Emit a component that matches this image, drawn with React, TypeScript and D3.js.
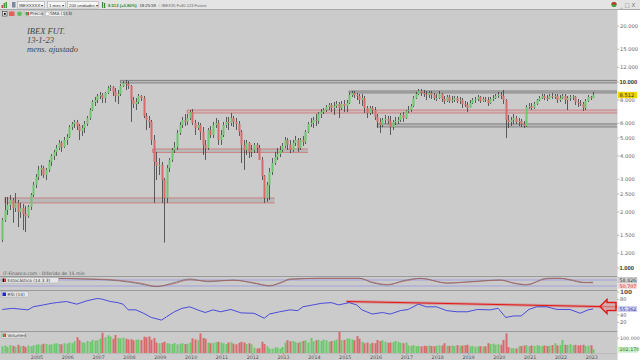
import React from 'react';
import * as d3 from 'd3';

// IBEX fut, monthly, adjusted. One candle per month from Nov 2003 to Jan 2023.
// open = previous close (continuous futures), first open given apart.
const firstOpen = 1414;

const closes = [
  1810, 2050, 2180, 2320, 2100, 2240, 2000, 2100, 1950, 1900, 2130, 2470, 2800, 3090,
  3370, 3450, 3160, 3370, 3720, 4000, 4210, 4420, 4700, 4470, 4880, 5060,
  5730, 5950, 6100, 5800, 5450, 5660, 5950, 6400, 7070, 7810, 8000, 8410,
  8510, 8200, 8730, 9280, 9400, 8840, 8410, 8620, 9520, 9880, 9760, 9520,
  8000, 7620, 7810, 8410, 8200, 6570, 6250, 6100, 4880, 3720, 3540, 3580,
  2970, 2380, 3450, 3810, 4310, 4470, 5320, 5870, 6250, 6100, 6400, 6900,
  6020, 5660, 5870, 5390, 4590, 4420, 5520, 5190, 5870, 6020, 4880, 5190,
  5870, 6100, 6020, 6400, 6100, 5950, 5390, 4590, 4310, 4700, 4210, 4310,
  4590, 4420, 3810, 3130, 2380, 2800, 3280, 3670, 3950, 4100, 4310, 4530,
  4880, 4590, 4310, 4700, 4880, 4420, 4880, 4760, 5390, 5950, 6020, 6250,
  6170, 6730, 6900, 7070, 7340, 7520, 7250, 7430, 7620, 7250, 7620, 7430,
  7710, 8510, 8730, 8510, 8410, 8000, 8200, 7250, 6810, 7250, 7070, 6490,
  6100, 5870, 6250, 6330, 6170, 5730, 6100, 6170, 6250, 6650, 6400, 6990,
  7070, 7430, 8200, 8620, 8950, 8730, 8620, 8510, 8730, 8510, 8200, 8200,
  8620, 8100, 7900, 8310, 7900, 8000, 8200, 7900, 8000, 7620, 7520, 7250,
  7710, 8000, 8050, 8310, 7900, 8100, 8000, 7710, 8100, 8200, 8410, 8510,
  8410, 8000, 6250, 6100, 6250, 6400, 6100, 6170, 5950, 5800, 7340, 7430,
  7250, 7620, 8000, 8200, 8410, 8200, 8150, 8410, 8310, 8410, 8000, 8200,
  8410, 8000, 8200, 8310, 8350, 7810, 7710, 7620, 7250, 7900, 8310, 8200,
  8512,
];

const highs = [
  1860, 2410, 2410, 2470, 2380, 2530, 2320, 2240, 2210, 2160, 2180, 2530, 2900, 3200,
  3540, 3580, 3540, 3450, 3810, 4100, 4310, 4590, 4880, 4820, 5060, 5250,
  5870, 6100, 6250, 6250, 5950, 5870, 6170, 6570, 7250, 8000, 8310, 8620,
  8840, 8730, 8840, 9520, 9640, 9520, 9280, 9060, 9760, 10120, 10250, 10120,
  9640, 8310, 8200, 8620, 8510, 8410, 6810, 6570, 6250, 5190, 4210, 3900,
  3720, 3050, 3580, 3900, 4420, 4760, 5520, 6100, 6490, 6730, 6730, 7070,
  7160, 6250, 6100, 6020, 5730, 4880, 5660, 5800, 6100, 6400, 6250, 5520,
  6100, 6490, 6490, 6810, 6570, 6400, 6170, 5520, 4880, 4880, 4760, 4590,
  4700, 4700, 4590, 3950, 3160, 2900, 3450, 3900, 4210, 4420, 4530, 4700,
  5060, 5000, 4880, 4880, 5130, 5000, 5000, 5130, 5520, 6100, 6400, 6490,
  6730, 6900, 7160, 7250, 7520, 7710, 7710, 7810, 7900, 7810, 7900, 8000,
  8000, 8730, 8950, 8950, 8730, 8620, 8620, 8410, 7430, 7430, 7430, 7340,
  6730, 6400, 6400, 6650, 6570, 6570, 6250, 6490, 6490, 6810, 6900, 7070,
  7430, 7620, 8410, 8840, 9170, 9170, 9060, 8950, 8950, 8950, 8730, 8620,
  8950, 8730, 8410, 8510, 8510, 8410, 8410, 8410, 8310, 8200, 7900, 7810,
  8000, 8200, 8310, 8510, 8410, 8310, 8310, 8310, 8310, 8510, 8620, 8840,
  8840, 9060, 8100, 6650, 6490, 6730, 6570, 6400, 6330, 6170, 7520, 7710,
  7710, 7810, 8100, 8410, 8620, 8620, 8510, 8620, 8730, 8620, 8620, 8510,
  8620, 8620, 8410, 8510, 8510, 8410, 8100, 8000, 7810, 8100, 8510, 8410,
  8840,
];

const lows = [
  1380, 1770, 1930, 2050, 1750, 2000, 1660, 1860, 1600, 1560, 1860, 2050, 2410, 2690,
  2970, 3130, 3050, 2970, 3280, 3540, 3810, 4000, 4310, 4210, 4420, 4590,
  5000, 5520, 5660, 5520, 4880, 5130, 5320, 5800, 6250, 6990, 7430, 7710,
  8100, 7710, 7710, 8620, 8950, 8410, 7810, 7620, 8410, 9400, 9060, 9170,
  6100, 7250, 7070, 7620, 7900, 6400, 5520, 5660, 4590, 2240, 2970, 3160,
  2240, 1370, 2240, 3280, 3720, 4150, 4310, 5190, 5660, 5800, 5870, 6250,
  5870, 5190, 5520, 4880, 4050, 3810, 4310, 5000, 5000, 5660, 4590, 4590,
  5060, 5660, 5520, 5800, 5730, 5520, 5130, 3670, 3370, 4050, 3900, 3950,
  4150, 4150, 3810, 2970, 2240, 2270, 2320, 3160, 3580, 3810, 3950, 4210,
  4420, 4310, 4150, 4210, 4530, 4210, 4310, 4530, 4640, 5320, 5730, 5660,
  5800, 5950, 6400, 6730, 6900, 7070, 6900, 6650, 7250, 6400, 7070, 6900,
  6900, 7620, 8310, 8200, 8000, 7620, 7430, 6810, 6400, 6650, 6730, 6250,
  5660, 5320, 5730, 5950, 5950, 5190, 5520, 5870, 5950, 6100, 6100, 6330,
  6810, 6900, 7340, 8100, 8510, 8410, 8310, 8000, 8200, 8100, 8000, 7900,
  8100, 7810, 7620, 7810, 7710, 7710, 7810, 7710, 7620, 7250, 7340, 6900,
  7250, 7620, 7710, 7900, 7710, 7810, 7810, 7430, 7620, 7900, 8100, 8200,
  8100, 7620, 5000, 5660, 5800, 5950, 5950, 5800, 5730, 5660, 5730, 7160,
  7070, 7160, 7520, 7900, 8100, 8000, 7900, 8100, 8100, 8100, 7710, 7810,
  8100, 7620, 7070, 7900, 8000, 7520, 7340, 7430, 6990, 7070, 7810, 8000,
  8200,
];

// volume in thousands
const volumes = [
  45, 50, 40, 52, 48, 42, 55, 45, 48, 40, 50, 45, 52, 55,
  58, 55, 62, 60, 55, 58, 62, 65, 60, 58, 65, 62,
  70, 65, 78, 105, 85, 72, 68, 80, 75, 88, 82, 85,
  95, 135, 105, 118, 110, 95, 120, 100, 98, 102, 95, 90,
  92, 85, 88, 90, 86, 109, 105, 110, 88, 100, 70, 65,
  68, 75, 65, 62, 60, 66, 58, 62, 65, 60, 62, 70,
  98, 90, 85, 131, 100, 95, 70, 65, 68, 72, 75, 70,
  65, 60, 70, 72, 62, 58, 68, 75, 70, 60, 65, 58,
  35, 30, 32, 75, 60, 45, 30, 28, 38, 35, 30, 40,
  70, 85, 78, 80, 72, 68, 75, 80, 85, 70, 100, 78,
  85, 88, 80, 90, 85, 75, 80, 82, 90, 142, 85, 88,
  98, 95, 90, 85, 113, 95, 75, 65, 70, 62, 68, 65,
  87, 80, 85, 75, 68, 70, 72, 80, 75, 68, 65, 70,
  50, 48, 52, 45, 47, 44, 48, 46, 50, 47, 45, 48,
  52, 50, 65, 48, 47, 50, 46, 52, 48, 50, 52, 55,
  45, 47, 42, 44, 46, 43, 45, 65, 60, 62, 55, 58,
  55, 87, 131, 40, 32, 31, 30, 45, 47, 50, 52, 46,
  50, 47, 52, 48, 46, 50, 47, 48, 53, 65, 50, 52,
  87, 55, 53, 58, 52, 55, 50, 52, 55, 47, 50, 52,
  25,
];

const priceTicks = [20000, 15000, 12000, 10000, 8000, 6000, 5000, 4000, 3000, 2500, 2000, 1500, 1200, 1000];
const boldTicks = [10000, 1000];
const rsiTicks = [100, 80, 40, 20];
const years = [2005, 2006, 2007, 2008, 2009, 2010, 2011, 2012, 2013, 2014, 2015, 2016, 2017, 2018, 2019, 2020, 2021, 2022, 2023];

// support / resistance zones drawn by hand (candle index from / to)
const levelLo = [9880, 8730, 6810, 5730, 4180, 2237];
const levelHi = [10200, 8950, 7070, 5950, 4365, 2380];
const levelFrom = [46, 135, 72, 146, 58.5, 1];
const levelTo = [245, 245, 245, 245, 119, 106];
const levelKind = ['gray', 'gray', 'red', 'gray', 'mixed', 'mixed'];

// stochastic (14 3 3), read at key months
const stochIdx = [0, 19, 31, 45, 54, 60, 66, 73, 80, 90, 98, 104, 109, 112, 124, 139, 144, 150, 156, 163, 173, 182, 194, 199, 204, 212, 217, 221, 226, 230];
const stochK = [97, 97, 90, 73, 40, 13, 47, 90, 63, 80, 47, 20, 63, 90, 97, 97, 53, 30, 73, 97, 47, 63, 80, 47, 30, 97, 97, 80, 53, 59];
const stochD = [95, 97, 93, 78, 48, 18, 38, 82, 70, 76, 53, 25, 55, 85, 97, 97, 60, 35, 65, 95, 52, 60, 78, 52, 35, 92, 97, 85, 58, 51];

// RSI (14)
const rsiIdx = [0, 4, 10, 12, 16, 19, 21, 25, 29, 33, 37, 39, 42, 45, 47, 49, 52, 55, 58, 62, 64, 67, 70, 73, 76, 79, 82, 85, 89, 93, 98, 102, 104, 108, 112, 115, 117, 121, 124, 128, 131, 135, 138, 140, 144, 148, 151, 155, 158, 162, 165, 169, 173, 177, 181, 185, 190, 193, 196, 199, 202, 205, 208, 212, 216, 221, 225, 228, 230];
const rsiVal = [54, 57, 53, 61, 66, 70, 72, 75, 68, 77, 83, 81, 75, 72, 68, 53, 53, 44, 33, 26, 35, 48, 57, 61, 53, 46, 53, 48, 54, 45, 44, 31, 42, 48, 53, 51, 61, 66, 70, 72, 66, 72, 66, 53, 42, 46, 42, 51, 54, 68, 61, 61, 51, 48, 48, 54, 53, 57, 33, 37, 37, 54, 61, 61, 54, 54, 44, 53, 55.4];
const trendIdx = [134, 245];
const trendVal = [75, 60];

const PR = 617; // right edge of the plots

const es = d3.formatLocale({ decimal: ',', thousands: '.', grouping: [3], currency: ['', ''] });
const fmt = es.format(',');

const x = d3.scaleLinear().domain([0, 230]).range([2.3, 593.1]);
const y = d3.scaleLog().domain([10000, 1000]).range([82, 268]);
const yStoch = d3.scaleLinear().domain([0, 100]).range([288, 278]);
const yRsi = d3.scaleLinear().domain([0, 100]).range([330, 292]);
const yVol = d3.scaleLinear().domain([0, 100]).range([353, 338]);

const GREEN = '#6cc86c';
const RED = '#d96a6a';

export default function App() {
  const candles = closes.map((c, i) => {
    const o = i === 0 ? firstOpen : closes[i - 1];
    return { i, o, c, h: highs[i], l: lows[i], v: volumes[i], up: c >= o };
  });

  const stochLine = d3.line<number>()
    .x((_, j) => x(stochIdx[j]))
    .y(d => yStoch(d))
    .curve(d3.curveMonotoneX);
  const rsiLine = d3.line<number>()
    .x((_, j) => x(rsiIdx[j]))
    .y(d => yRsi(d));
  const trend = d3.line<number>()
    .x((_, j) => x(trendIdx[j]))
    .y(d => yRsi(d));

  return (
    <svg width={640} height={360} style={{ position: 'absolute', left: 0, top: 0 }} fontFamily="DejaVu Sans">
      <defs>
        <clipPath id="mainClip"><rect x={0} y={10} width={PR} height={266} /></clipPath>
        <clipPath id="rsiClip"><rect x={0} y={291} width={PR} height={40} /></clipPath>
      </defs>
      <rect width={640} height={360} fill="#fff" />
      <rect x={0} y={10} width={PR} height={350} fill="#cbcbcb" />

      {/* toolbar */}
      <rect x={0} y={0} width={640} height={9.5} fill="#e4e4e4" />
      <line x1={0} x2={640} y1={9.5} y2={9.5} stroke="#a8a8a8" />
      <rect x={1.5} y={5} width={1.5} height={3} fill="#d04040" />
      <rect x={3.5} y={3} width={1.5} height={5} fill="#40a040" />
      <rect x={5.5} y={2} width={1.5} height={6} fill="#40a040" />
      <rect x={12} y={2} width={3.5} height={5.5} fill="#7a8aa0" />
      <g fontFamily="Liberation Sans">
        <rect x={17.5} y={1.5} width={27} height={6.5} fill="#f6f6f6" stroke="#a0a0a0" strokeWidth={0.5} />
        <text x={19} y={6.5} fontSize={4.3} fill="#333">IBEXXXXX ▾</text>
        <rect x={47.5} y={1.5} width={18} height={6.5} fill="#f6f6f6" stroke="#a0a0a0" strokeWidth={0.5} />
        <text x={49} y={6.5} fontSize={4.3} fill="#333">1 mes ▾</text>
        <rect x={67.5} y={1.5} width={31} height={6.5} fill="#f6f6f6" stroke="#a0a0a0" strokeWidth={0.5} />
        <text x={69} y={6.5} fontSize={4.3} fill="#333">200 unidades ▾</text>
        <rect x={102} y={2} width={1.2} height={6} fill="#3a8a3a" />
        <rect x={104} y={3} width={1.2} height={5} fill="#3a8a3a" />
        <text x={108} y={6.5} fontSize={4.2} fill="#2e8b2e" fontWeight="bold">8.512 (+0,80%)</text>
        <text x={139.5} y={6.5} fontSize={4.2} fill="#333">18:25:59</text>
        <text x={158} y={6.5} fontSize={4.1} fill="#666">○ IBEX35 Full0.123 Future</text>
      </g>
      <circle cx={614} cy={4.5} r={2.6} fill="#3aa83a" />
      <path d="M611.4,4.5 A2.6,2.6 0 0 1 616.6,4.5 Z" fill="#d03030" />
      <text x={620} y={7} fontSize={5.5} fill="#777">_ □ X</text>

      {/* second row legend */}
      <rect x={2.5} y={11.5} width={4.5} height={4.5} fill="#fff" stroke="#333" strokeWidth={0.6} />
      <rect x={3.8} y={12.8} width={2} height={2} fill="#111" />
      <rect x={9} y={11.5} width={5.5} height={4.5} fill="#e06060" />
      <circle cx={19.5} cy={13.8} r={2.4} fill="#5cc05c" />
      <rect x={24.5} y={11} width={18} height={5.5} fill="#ececec" stroke="#aaa" strokeWidth={0.4} />
      <rect x={25.5} y={12} width={1.8} height={3.5} fill="#40a040" />
      <rect x={27.3} y={12} width={1.8} height={3.5} fill="#d04040" />
      <text x={30} y={15.3} fontSize={4.3} fill="#333">Precio</text>
      <rect x={44.5} y={11} width={20} height={5.5} fill="#ececec" stroke="#aaa" strokeWidth={0.4} />
      <rect x={45.5} y={12} width={3.5} height={3.5} fill="#fff" stroke="#888" strokeWidth={0.4} />
      <text x={50} y={15.3} fontSize={4.3} fill="#333">SMA (113)</text>

      {/* annotation */}
      <g fontFamily="Liberation Serif" fontStyle="italic" fontSize={8.5} fill="#444">
        <text x={27} y={34}>IBEX FUT.</text>
        <text x={27} y={43}>13-1-23</text>
        <text x={27} y={52}>mens. ajustado</text>
      </g>

      {/* support / resistance zones */}
      <g clipPath="url(#mainClip)">
        {levelLo.map((lo, k) => {
          const kind = levelKind[k];
          const x0 = x(levelFrom[k]);
          const x1 = Math.min(x(levelTo[k]), PR);
          const y0 = y(levelHi[k]);
          const y1 = y(lo);
          const edge = kind === 'gray' ? '#555' : '#d05a5a';
          const fill = kind === 'red' ? '#d88a8a' : '#8c8c8c';
          return (
            <g key={k}>
              <rect x={x0} y={y0} width={x1 - x0} height={y1 - y0} fill={fill} fillOpacity={0.28} />
              <line x1={x0} x2={x1} y1={y0} y2={y0} stroke={edge} strokeWidth={0.8} strokeOpacity={0.75} />
              <line x1={x0} x2={x1} y1={y1} y2={y1} stroke={edge} strokeWidth={0.8} strokeOpacity={0.75} />
              <line x1={x0} x2={x0} y1={y0} y2={y1} stroke={edge} strokeWidth={0.8} strokeOpacity={0.75} />
            </g>
          );
        })}

        {/* candles */}
        {candles.map(d => {
          const cx = Math.round(x(d.i));
          const top = y(Math.max(d.o, d.c));
          const bot = y(Math.min(d.o, d.c));
          return (
            <g key={d.i}>
              <line x1={cx + 0.5} x2={cx + 0.5} y1={y(d.h)} y2={y(d.l)} stroke="#3c3c3c" strokeWidth={0.8} />
              <rect x={cx - 0.5} y={top} width={2} height={Math.max(1, bot - top)} fill={d.up ? GREEN : RED} />
            </g>
          );
        })}
      </g>

      <text x={3} y={275} fontSize={4.6} fill="#555">IT-Finance.com - Diferido de 15 min</text>

      {/* stochastic panel */}
      <line x1={0} x2={PR} y1={276.5} y2={276.5} stroke="#9a9a9a" />
      <line x1={0} x2={PR} y1={yStoch(80)} y2={yStoch(80)} stroke="#8f8fe6" strokeWidth={0.7} />
      <line x1={0} x2={PR} y1={yStoch(20)} y2={yStoch(20)} stroke="#8f8fe6" strokeWidth={0.7} />
      <path d={stochLine(stochK) || ''} fill="none" stroke="#7a7a7a" strokeWidth={0.9} />
      <path d={stochLine(stochD) || ''} fill="none" stroke="#b05050" strokeWidth={0.6} />
      <rect x={1.5} y={277.5} width={57} height={5.5} fill="#e6e6e6" stroke="#a0a0a0" strokeWidth={0.4} />
      <rect x={2.5} y={278.5} width={1.8} height={3.5} fill="#111" />
      <rect x={4.3} y={278.5} width={1.8} height={3.5} fill="#d03030" />
      <text x={7.5} y={281.9} fontSize={4.3} fill="#333">Estocástico (14 3 3)</text>

      {/* RSI panel */}
      <line x1={0} x2={PR} y1={290.5} y2={290.5} stroke="#9a9a9a" />
      <g clipPath="url(#rsiClip)">
        <path d={trend(trendVal) || ''} fill="none" stroke="#e04040" strokeWidth={3} strokeOpacity={0.35} />
        <path d={trend(trendVal) || ''} fill="none" stroke="#e01818" strokeWidth={1} />
        <path d={rsiLine(rsiVal) || ''} fill="none" stroke="#2b2bdf" strokeWidth={0.8} />
      </g>
      <rect x={1.5} y={291.5} width={27} height={5.5} fill="#e6e6e6" stroke="#a0a0a0" strokeWidth={0.4} />
      <rect x={2.5} y={292.5} width={3.5} height={3.5} fill="#2020e0" />
      <text x={7.5} y={295.9} fontSize={4.3} fill="#333">RSI (14)</text>
      <path d="M600,306.5 L607,299.5 L607,302.5 L616,302.5 L616,310.5 L607,310.5 L607,313.5 Z"
        fill="#d9a0a0" fillOpacity={0.6} stroke="#e01818" strokeWidth={1.4} />

      {/* volume panel */}
      <line x1={0} x2={PR} y1={331.5} y2={331.5} stroke="#9a9a9a" />
      {candles.map(d => (
        <rect key={d.i} x={Math.round(x(d.i)) - 0.5} y={yVol(d.v)} width={2}
          height={yVol(0) - yVol(d.v)} fill={d.up ? GREEN : RED} />
      ))}
      <rect x={1.5} y={332.5} width={24} height={5.5} fill="#e6e6e6" stroke="#a0a0a0" strokeWidth={0.4} />
      <rect x={2.5} y={333.5} width={1.8} height={3.5} fill="#40a040" />
      <rect x={4.3} y={333.5} width={1.8} height={3.5} fill="#d04040" />
      <text x={7.5} y={336.9} fontSize={4.3} fill="#333">Volumen</text>
      <line x1={0} x2={PR} y1={353.5} y2={353.5} stroke="#b0b0b0" strokeWidth={0.6} />

      {/* time axis */}
      {years.map(yr => {
        const tx = x(14 + (yr - 2005) * 12 - 0.5);
        return (
          <g key={yr}>
            <line x1={tx} x2={tx} y1={353} y2={355} stroke="#888" strokeWidth={0.5} />
            <text x={tx} y={359} textAnchor="middle" fontSize={4.8} fill="#555">{yr}</text>
          </g>
        );
      })}

      {/* right axis */}
      <rect x={PR} y={10} width={640 - PR} height={350} fill="#fff" />
      <line x1={PR + 0.5} x2={PR + 0.5} y1={10} y2={360} stroke="#c8c8c8" strokeWidth={0.5} />
      {priceTicks.map(t => {
        const bold = boldTicks.includes(t);
        return (
          <g key={t}>
            <line x1={PR} x2={PR + 2.5} y1={y(t)} y2={y(t)} stroke="#888" strokeWidth={0.5} />
            <text x={bold ? PR + 2.5 : PR + 3} y={y(t)} dy="0.35em" fontSize={bold ? 5.8 : 5.2}
              fontFamily={bold ? 'Liberation Sans' : undefined}
              fontWeight={bold ? 'bold' : 'normal'} fill={bold ? '#333' : '#666'}>{fmt(t)}</text>
          </g>
        );
      })}
      <rect x={PR + 1} y={y(8512) - 3.2} width={19} height={6.4} fill="#f0d400" />
      <text x={PR + 2.5} y={y(8512)} dy="0.35em" fontSize={5.2} fill="#333">{fmt(8512)}</text>

      <rect x={PR + 1} y={yStoch(80) - 2.8} width={19} height={5.6} fill="#d4d4d4" stroke="#aaa" strokeWidth={0.4} />
      <text x={PR + 2.5} y={yStoch(80)} dy="0.35em" fontSize={4.8} fill="#333">58.826</text>
      <rect x={PR + 1} y={yStoch(20) - 2.8} width={19} height={5.6} fill="#f2d6d6" />
      <text x={PR + 2.5} y={yStoch(20)} dy="0.35em" fontSize={4.8} fill="#c83030">50.707</text>

      {rsiTicks.map(t => (
        <g key={t}>
          <line x1={PR} x2={PR + 2.5} y1={yRsi(t)} y2={yRsi(t)} stroke="#888" strokeWidth={0.5} />
          <text x={PR + 3} y={yRsi(t)} dy="0.35em" fontSize={t === 100 ? 5.8 : 5}
            fontWeight={t === 100 ? 'bold' : 'normal'} fill="#555">{t}</text>
        </g>
      ))}
      <rect x={PR + 1} y={yRsi(55.362) - 3} width={19} height={6} fill="#cfcfee" />
      <text x={PR + 2.5} y={yRsi(55.362)} dy="0.35em" fontSize={4.8} fill="#3030a8">55.362</text>

      <line x1={PR} x2={PR + 2.5} y1={yVol(100)} y2={yVol(100)} stroke="#888" strokeWidth={0.5} />
      <text x={PR + 3} y={yVol(100)} dy="0.35em" fontSize={4.8} fill="#666">{fmt(100000)}</text>
      <rect x={PR + 1} y={347} width={20} height={5.6} fill="#c6ecc6" />
      <text x={PR + 2.5} y={349.8} dy="0.35em" fontSize={4.8} fill="#2a7a2a">102.170</text>
    </svg>
  );
}
